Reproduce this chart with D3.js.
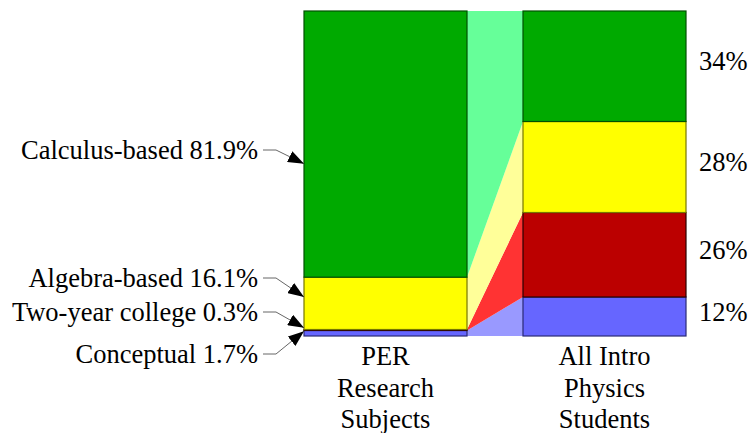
<!DOCTYPE html>
<html>
<head>
<meta charset="utf-8">
<script src="https://cdn.jsdelivr.net/npm/d3@7"></script>
<style>
html,body{margin:0;padding:0;background:#fff;}
svg{display:block;}
</style>
</head>
<body>
<svg id="chart" width="748" height="433"></svg>
<script>
// ---- data ----
const categories = ["Conceptual", "Two-year college", "Algebra-based", "Calculus-based"]; // bottom to top
const groups = ["PER", "All"];
const perValues = [1.7, 0.3, 16.1, 81.9];
const allValues = [12, 26, 28, 34];
const groupLabels = [["PER", "Research", "Subjects"], ["All Intro", "Physics", "Students"]];
const rightLabels = ["12%", "26%", "28%", "34%"];
const leftLabels = ["Conceptual 1.7%", "Two-year college 0.3%", "Algebra-based 16.1%", "Calculus-based 81.9%"];
const arrowTargets = [1.5, 2.5, 12, 53]; // percent position on PER bar where each arrow points

// ---- styles ----
const FONT = "'Liberation Serif', Tinos, 'Times New Roman', Times, 'Nimbus Roman', 'DejaVu Serif', serif";
const barFill = ["#6666ff", "#bb0000", "#ffff00", "#00aa00"];
const barStroke = ["#2a2a77", "#2a0000", "#777700", "#005000"];
const bandFill = ["#9999ff", "#ff3333", "#ffff99", "#66ff99"];

const svg = d3.select("#chart").style("font-family", FONT);
const y = d3.scaleLinear().domain([0, 100]).range([336, 11]);
const x = d3.scaleBand().domain(groups).range([304, 686]).paddingInner(0.2557).paddingOuter(0);
const bw = x.bandwidth();

const table = groups.map((g, gi) => {
  const row = { group: g };
  categories.forEach((c, i) => row[c] = (gi === 0 ? perValues : allValues)[i]);
  return row;
});
const series = d3.stack().keys(categories)(table);

// bands between bars
const area = d3.area().x(d => d.x).y0(d => d.y0).y1(d => d.y1);
svg.append("g").selectAll("path").data(series).join("path")
  .attr("d", s => area([
    { x: x("PER") + bw, y0: y(s[0][0]), y1: y(s[0][1]) },
    { x: x("All"), y0: y(s[1][0]), y1: y(s[1][1]) }
  ]))
  .attr("fill", (s, i) => bandFill[i]);

// bars
const gBars = svg.append("g");
series.forEach((s, i) => {
  gBars.selectAll(null).data(s).join("rect")
    .attr("x", d => x(d.data.group))
    .attr("width", bw)
    .attr("y", d => y(d[1]))
    .attr("height", d => y(d[0]) - y(d[1]))
    .attr("fill", barFill[i])
    .attr("stroke", barStroke[i])
    .attr("stroke-width", 1.2);
});

// right percent labels
svg.append("g").selectAll("text").data(series).join("text")
  .attr("x", x("All") + bw + 13)
  .attr("y", s => (y(s[1][0]) + y(s[1][1])) / 2 + 4)
  .attr("font-family", FONT)
  .attr("font-size", 26.5)
  .text((s, i) => rightLabels[i]);

// category labels
groups.forEach((g, gi) => {
  svg.append("text")
    .attr("text-anchor", "middle")
    .attr("font-family", FONT)
    .attr("font-size", 26.5)
    .selectAll("tspan").data(groupLabels[gi]).join("tspan")
    .attr("x", x(g) + bw / 2)
    .attr("y", (d, i) => 365 + i * 31.5)
    .text(d => d);
});

// left annotations with arrows
const defs = svg.append("defs");
defs.append("marker")
  .attr("id", "ah").attr("markerUnits", "userSpaceOnUse")
  .attr("viewBox", "0 0 16 12").attr("refX", 16).attr("refY", 6)
  .attr("markerWidth", 16).attr("markerHeight", 12).attr("orient", "auto")
  .append("path").attr("d", "M0,0 L16,6 L0,12 Z").attr("fill", "#000");

const labelBaselines = [363, 321, 287, 159];
const gAnn = svg.append("g");
leftLabels.forEach((t, i) => {
  const by = labelBaselines[i];
  gAnn.append("text")
    .attr("x", 258).attr("y", by)
    .attr("text-anchor", "end")
    .attr("font-family", FONT)
    .attr("font-size", 26.5)
    .text(t);
  const ly = by - 9;
  gAnn.append("path")
    .attr("d", `M263,${ly} H276 L${x("PER")},${y(arrowTargets[i])}`)
    .attr("fill", "none")
    .attr("stroke", "#666")
    .attr("stroke-width", 1)
    .attr("marker-end", "url(#ah)");
});
</script>
</body>
</html>
